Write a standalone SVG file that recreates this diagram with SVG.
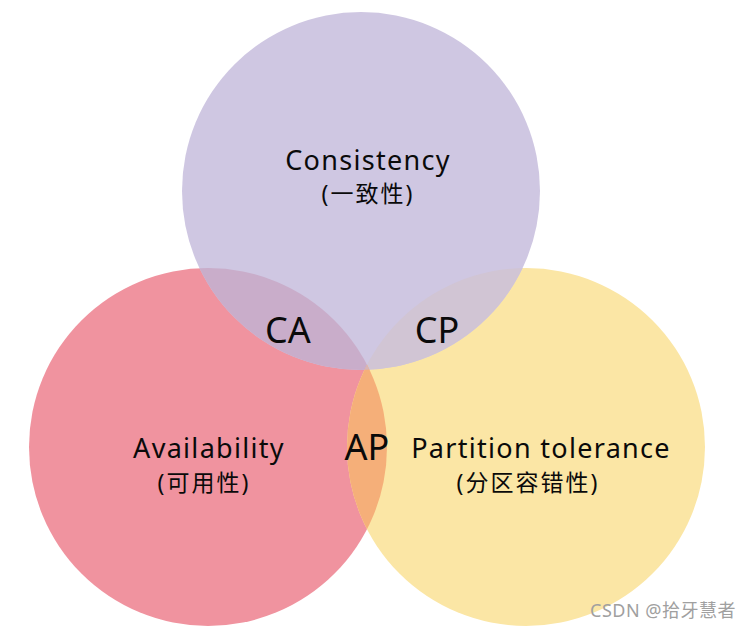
<svg xmlns="http://www.w3.org/2000/svg" width="756" height="629" viewBox="0 0 756 629">
<style>
.lbl{font-family:"Noto Sans","Noto Sans CJK SC",sans-serif;fill:#0a0a0a;text-anchor:middle}
.big{font-size:27px;letter-spacing:1.3px}
.cn{font-size:23px;letter-spacing:2px}
.reg{font-size:36px}
.wm{font-family:"Noto Sans","Noto Sans CJK SC",sans-serif;font-size:18px;fill:#a0a0a0;letter-spacing:0.5px}
</style>
<defs>
<clipPath id="cT"><circle cx="361" cy="191" r="179"/></clipPath>
<clipPath id="cL"><circle cx="208" cy="447" r="179"/></clipPath>
<clipPath id="cR"><circle cx="526" cy="447" r="179"/></clipPath>
</defs>
<rect width="756" height="629" fill="#ffffff"/>
<g id="availability">
<circle cx="208" cy="447" r="179" fill="#f0939f"/>
</g>
<g id="partition">
<circle cx="526" cy="447" r="179" fill="#fbe6a5"/>
</g>
<g id="consistency">
<circle cx="361" cy="191" r="179" fill="#cfc7e2"/>
</g>
<g id="overlaps">
<circle id="ca-region" cx="208" cy="447" r="179" fill="#c9adca" clip-path="url(#cT)"/>
<circle id="cp-region" cx="526" cy="447" r="179" fill="#d1c5d4" clip-path="url(#cT)"/>
<circle id="ap-region" cx="526" cy="447" r="179" fill="#f5af79" clip-path="url(#cL)"/>
<g clip-path="url(#cT)"><circle cx="526" cy="447" r="179" fill="#d6b4b8" clip-path="url(#cL)"/></g>
</g>
<g id="labels">
<g id="label-c">
<text class="lbl big" x="368" y="170">Consistency</text>
<text class="lbl cn" x="368" y="202">(一致性)</text>
</g>
<g id="label-a">
<text class="lbl big" x="209" y="458">Availability</text>
<text class="lbl cn" x="204" y="491">(可用性)</text>
</g>
<g id="label-p">
<text class="lbl big" x="541" y="458">Partition tolerance</text>
<text class="lbl cn" x="528" y="491">(分区容错性)</text>
</g>
<g id="label-ca"><text class="lbl reg" x="288" y="343">CA</text></g>
<g id="label-cp"><text class="lbl reg" x="437" y="343">CP</text></g>
<g id="label-ap"><text class="lbl reg" x="367" y="460">AP</text></g>
</g>
<text class="wm" x="590" y="617">CSDN @拾牙慧者</text>
</svg>
